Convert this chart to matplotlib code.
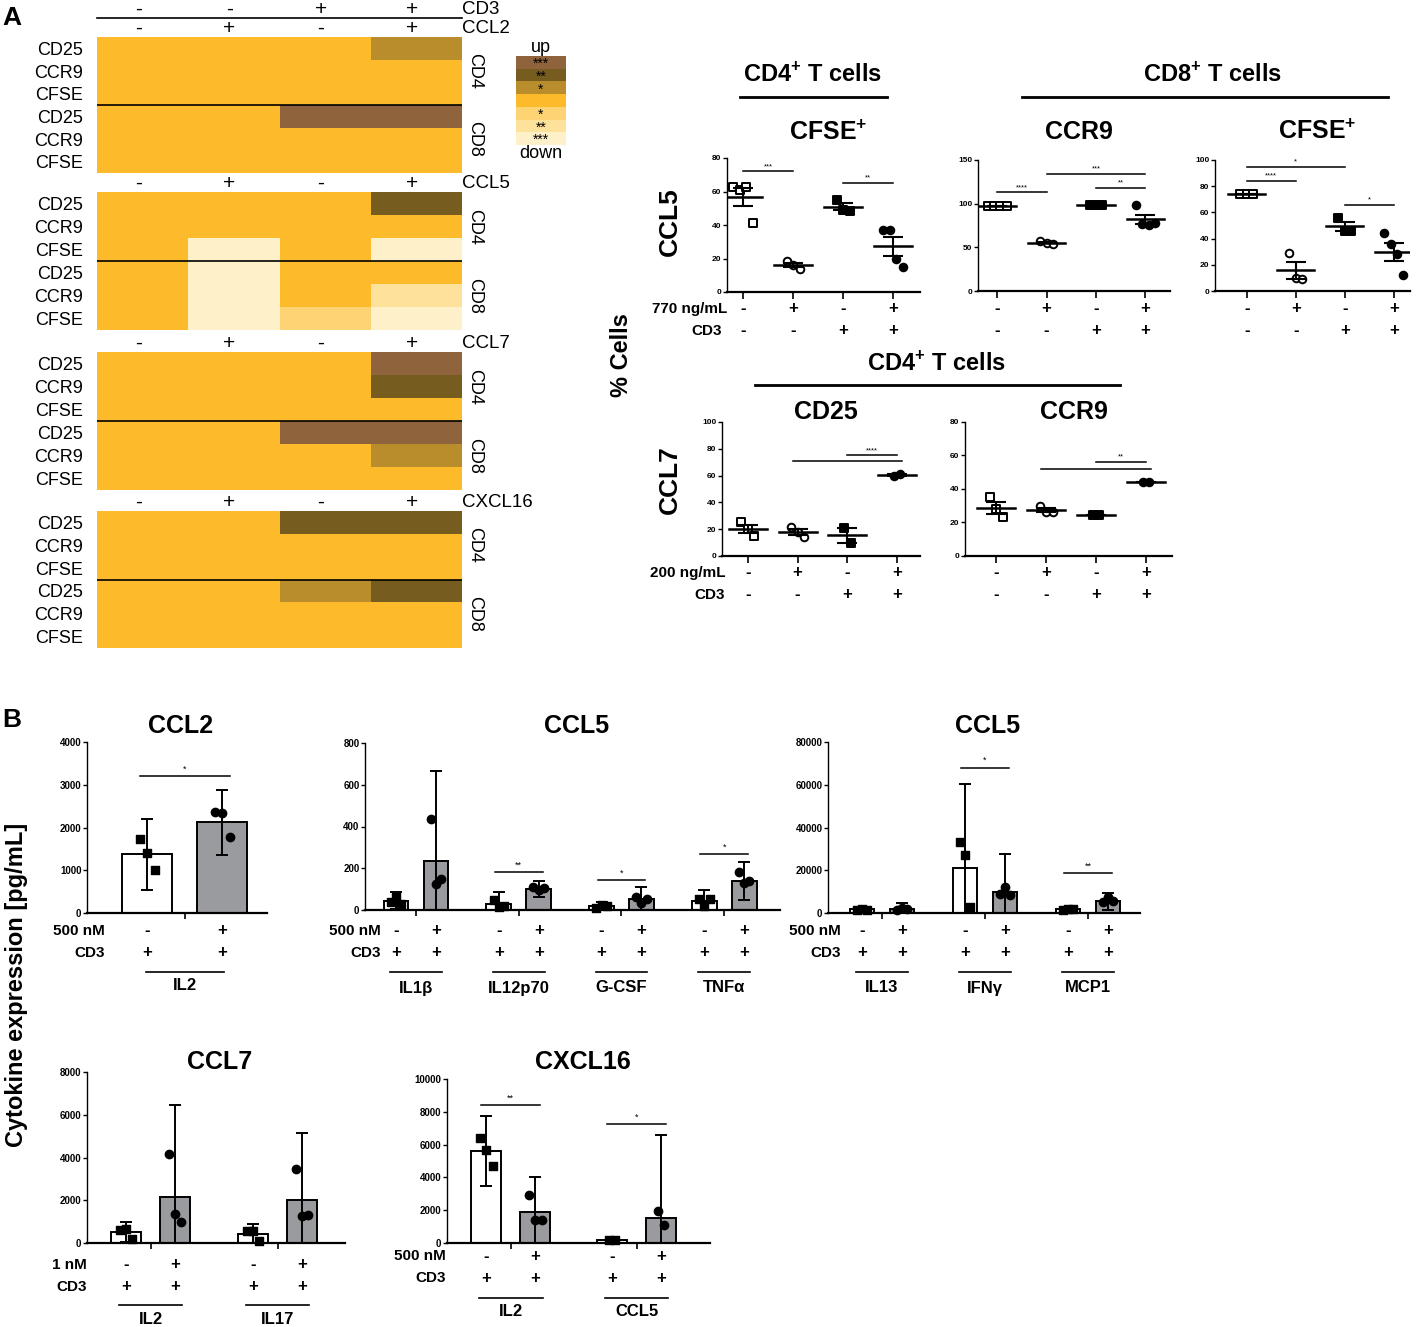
import numpy as np
import matplotlib
matplotlib.use("Agg")
import matplotlib.pyplot as plt
from matplotlib.colors import ListedColormap
from matplotlib.transforms import ScaledTranslation

plt.rcParams['font.family'] = ['Liberation Sans', 'DejaVu Sans']
plt.rcParams['mathtext.fontset'] = 'custom'
plt.rcParams['mathtext.rm'] = 'Liberation Sans:bold'
plt.rcParams['mathtext.bf'] = 'Liberation Sans:bold'
BOLD = dict(fontweight='bold', family=['Liberation Sans', 'DejaVu Sans'])

W, H = 1418, 1327

# ---------------- data: heatmap (A, left) ----------------
heat_rows = ["CD25", "CCR9", "CFSE", "CD25", "CCR9", "CFSE"]
heat_cd3 = ["-", "-", "+", "+"]
heat_treat = ["-", "+", "-", "+"]
heat_names = ["CCL2", "CCL5", "CCL7", "CXCL16"]
heat_ccl2 = [[0, 0, 0, 1], [0, 0, 0, 0], [0, 0, 0, 0],
             [0, 0, 3, 3], [0, 0, 0, 0], [0, 0, 0, 0]]
heat_ccl5 = [[0, 0, 0, 2], [0, 0, 0, 0], [0, -3, 0, -3],
             [0, -3, 0, 0], [0, -3, 0, -2], [0, -3, -1, -3]]
heat_ccl7 = [[0, 0, 0, 3], [0, 0, 0, 2], [0, 0, 0, 0],
             [0, 0, 3, 3], [0, 0, 0, 1], [0, 0, 0, 0]]
heat_cxcl16 = [[0, 0, 2, 2], [0, 0, 0, 0], [0, 0, 0, 0],
               [0, 0, 1, 2], [0, 0, 0, 0], [0, 0, 0, 0]]
legend_levels = [3, 2, 1, 0, -1, -2, -3]
legend_stars = ["***", "**", "*", "", "*", "**", "***"]
heat_colors = ['#FEF0C8', '#FEE29C', '#FDD373', '#FDBA2B',
               '#B98D2B', '#775C1F', '#8F643C']

# ---------------- data: scatter plots (A, right) ----------------
sc_treat = ["-", "+", "-", "+"]
sc_cd3 = ["-", "-", "+", "+"]
ccl5_cd4_cfse = [[62.5, 61, 62.5, 41], [18.5, 16, 14], [55, 49, 48.5], [37, 37, 20, 15]]
ccl5_cd8_ccr9 = [[97.5, 97.5, 97.5, 97.5], [57, 55, 54], [98, 98, 98], [98, 77, 76, 78]]
ccl5_cd8_cfse = [[74, 74, 74], [29, 10, 9], [56, 46, 46], [44, 36, 28, 12]]
ccl7_cd4_cd25 = [[25, 20, 15], [22, 18, 14], [21, 10], [60, 61]]
ccl7_cd4_ccr9 = [[35, 28, 23], [30, 26, 26], [24.5, 24.5], [44, 44]]
sig_ccl5_cd4_cfse = [(1, 2, 72, "***"), (3, 4, 65, "**")]
sig_ccl5_cd8_ccr9 = [(1, 2, 113, "****"), (2, 4, 134, "***"), (3, 4, 118, "**")]
sig_ccl5_cd8_cfse = [(1, 2, 84, "****"), (1, 3, 95, "*"), (3, 4, 66, "*")]
sig_ccl7_cd4_cd25 = [(2, 4, 71, ""), (3, 4, 75, "****")]
sig_ccl7_cd4_ccr9 = [(2, 4, 52, ""), (3, 4, 56, "**")]

# ---------------- data: bar charts (B) ----------------
b_ccl2_groups = ["IL2"]
b_ccl2_mean = [1370, 2120]
b_ccl2_err = [830, 760]
b_ccl2_pts = [[1720, 1400, 1000], [2370, 2350, 1780]]
b_ccl2_sig = [(0, 3200, "*")]

b_ccl5a_groups = ["IL1\u03b2", "IL12p70", "G-CSF", "TNF\u03b1"]
b_ccl5a_mean = [45, 237, 30, 100, 20, 55, 45, 140]
b_ccl5a_err = [40, 428, 58, 38, 20, 55, 50, 90]
b_ccl5a_pts = [[40, 60, 30], [435, 125, 150], [50, 15, 20], [110, 95, 105],
               [10, 25, 20], [60, 35, 55], [55, 20, 55], [180, 130, 140]]
b_ccl5a_sig = [(1, 182, "**"), (2, 144, "*"), (3, 268, "*")]

b_ccl5b_groups = ["IL13", "IFN\u03b3", "MCP1"]
b_ccl5b_mean = [1700, 1800, 21000, 9800, 1800, 5500]
b_ccl5b_err = [600, 2800, 39500, 18000, 800, 4000]
b_ccl5b_pts = [[1500, 2000, 1500], [1200, 2500, 1800], [33000, 27000, 3000],
               [9000, 12000, 8500], [1500, 2000, 2000], [5000, 7500, 5500]]
b_ccl5b_sig = [(1, 68000, "*"), (2, 18700, "**")]

b_ccl7_groups = ["IL2", "IL17"]
b_ccl7_mean = [520, 2170, 400, 2000]
b_ccl7_err = [480, 4280, 500, 3150]
b_ccl7_pts = [[600, 650, 200], [4150, 1350, 1000], [550, 550, 100], [3450, 1250, 1300]]

b_cxcl16_groups = ["IL2", "CCL5"]
b_cxcl16_mean = [5600, 1900, 200, 1500]
b_cxcl16_err = [2150, 2150, 0, 5100]
b_cxcl16_pts = [[6400, 5700, 4700], [2900, 1400, 1400], [200, 200], [1950, 1100]]
b_cxcl16_sig = [(0, 8400, "**"), (1, 7250, "*")]

b_treat = ["-", "+"]
b_cd3 = ["+", "+"]
GRAY = '#9A9B9F'

fig = plt.figure(figsize=(W / 100, H / 100), dpi=100)


def add_ax(x0, y0, x1, y1):
    return fig.add_axes([x0 / W, 1 - y1 / H, (x1 - x0) / W, (y1 - y0) / H])


def ftext(x, y, s, **kw):
    fig.text(x / W, 1 - y / H, s, **kw)


def below(ax, dy_px):
    return ax.get_xaxis_transform() + ScaledTranslation(0, -dy_px / 100, fig.dpi_scale_trans)


# ---------------- heatmap ----------------
cmap = ListedColormap(heat_colors)
blocks = [heat_ccl2, heat_ccl5, heat_ccl7, heat_cxcl16]
block_px = [(37, 173), (192, 330), (352, 490), (511, 648)]
for name, data, (y0, y1) in zip(heat_names, blocks, block_px):
    ax = add_ax(97, y0, 462, y1)
    ax.pcolormesh(np.arange(5), np.arange(7), np.array(data), cmap=cmap,
                  vmin=-3.5, vmax=3.5)
    ax.set_xlim(0, 4)
    ax.set_ylim(6, 0)
    ax.axhline(3, color='k', lw=1.2)
    for s in ax.spines.values():
        s.set_visible(False)
    ax.set_xticks([])
    ax.set_yticks(np.arange(6) + 0.5)
    ax.set_yticklabels(heat_rows, fontsize=13)
    ax.tick_params(axis='y', length=0, pad=10)
    ax.text(4.05, 1.5, "CD4", rotation=-90, ha='left', va='center', fontsize=13)
    ax.text(4.05, 4.5, "CD8", rotation=-90, ha='left', va='center', fontsize=13)
    for i, s in enumerate(heat_treat):
        ax.text(i + 0.45, -0.38, s, ha='center', va='center', fontsize=15, clip_on=False)
    ax.text(4.0, -0.38, name, ha='left', va='center', fontsize=13.5, clip_on=False)
    if name == "CCL2":
        for i, s in enumerate(heat_cd3):
            ax.text(i + 0.45, -1.22, s, ha='center', va='center', fontsize=15, clip_on=False)
        ax.text(4.0, -1.22, "CD3", ha='left', va='center', fontsize=13.5, clip_on=False)
        ax.plot([0, 4], [-0.84, -0.84], color='k', lw=1.2, clip_on=False)

lax = add_ax(516, 56, 566, 145)
lax.pcolormesh(np.array([[l] for l in legend_levels]), cmap=cmap, vmin=-3.5, vmax=3.5)
lax.set_ylim(7, 0)
lax.axis('off')
for i, st in enumerate(legend_stars):
    lax.text(0.5, i + 0.62, st, ha='center', va='center', fontsize=10)
lax.text(0.5, 1.0, "up", ha='center', va='bottom', fontsize=13, transform=lax.transAxes)
lax.text(0.5, 0.0, "down", ha='center', va='top', fontsize=13, transform=lax.transAxes)

ftext(2, 18, "A", fontsize=19, va='center', **BOLD)
ftext(2, 720, "B", fontsize=19, va='center', **BOLD)

# ---------------- scatter plots ----------------
MARKERS = [('s', 'white'), ('o', 'white'), ('s', 'k'), ('o', 'k')]


def style_left(ax, ticks, fs):
    for s in ['top', 'right']:
        ax.spines[s].set_visible(False)
    ax.spines['left'].set_linewidth(1.0)
    ax.spines['bottom'].set_linewidth(1.6)
    ax.set_yticks(ticks)
    ax.set_yticklabels([str(t) for t in ticks], fontsize=fs, **BOLD)
    ax.tick_params(axis='y', length=3, width=1, pad=1)
    ax.set_facecolor('none')


def scatter_panel(box, groups, ymax, step, sigs, xlim, title, title_y, rows_y):
    ax = add_ax(*box)
    for i, pts in enumerate(groups):
        x = i + 1
        pts = np.array(pts, dtype=float)
        off = (np.arange(len(pts)) - (len(pts) - 1) / 2) * 0.13
        m, fc = MARKERS[i]
        ax.scatter(x + off, pts, marker=m, s=30, facecolor=fc, edgecolor='k',
                   linewidths=1.4, zorder=3, clip_on=False)
        mean = pts.mean()
        sem = pts.std(ddof=1) / np.sqrt(len(pts))
        ax.plot([x - 0.38, x + 0.38], [mean, mean], color='k', lw=1.8, zorder=4)
        ax.errorbar(x, mean, yerr=sem, fmt='none', ecolor='k', elinewidth=1.5,
                    capsize=7, capthick=1.5, zorder=4)
    for a, b, y, st in sigs:
        ax.plot([a - 0.1, b + 0.1] if st == "" else [a, b], [y, y], color='k', lw=1.1)
        if st:
            ax.text((a + b) / 2, y + ymax * 0.01, st, ha='center', va='bottom', fontsize=5.5)
    ax.set_xlim(*xlim)
    ax.set_ylim(0, ymax)
    style_left(ax, list(range(0, ymax + 1, step)), 6)
    ax.set_xticks([1, 2, 3, 4])
    ax.set_xticklabels([])
    ax.tick_params(axis='x', length=5, width=1.2, direction='out')
    for i in range(4):
        ax.text(i + 1, 0, sc_treat[i], transform=below(ax, rows_y[0]), ha='center',
                va='center', fontsize=12, **BOLD)
        ax.text(i + 1, 0, sc_cd3[i], transform=below(ax, rows_y[1]), ha='center',
                va='center', fontsize=12, **BOLD)
    ftext((box[0] + box[2]) / 2 + 5, title_y, title, ha='center', va='center', fontsize=18, **BOLD)
    return ax


scatter_panel((727, 158, 920, 292), ccl5_cd4_cfse, 80, 20, sig_ccl5_cd4_cfse, (0.68, 4.54),
              "CFSE$^{+}$", 133, (17, 39))
scatter_panel((978, 160, 1170, 291), ccl5_cd8_ccr9, 150, 50, sig_ccl5_cd8_ccr9, (0.61, 4.5),
              "CCR9", 132, (18, 40))
scatter_panel((1215, 160, 1410, 291), ccl5_cd8_cfse, 100, 20, sig_ccl5_cd8_cfse, (0.35, 4.33),
              "CFSE$^{+}$", 132, (18, 40))
scatter_panel((722, 422, 920, 556), ccl7_cd4_cd25, 100, 20, sig_ccl7_cd4_cd25, (0.48, 4.46),
              "CD25", 412, (17, 39))
scatter_panel((965, 422, 1172, 556), ccl7_cd4_ccr9, 80, 20, sig_ccl7_cd4_ccr9, (0.38, 4.52),
              "CCR9", 412, (17, 39))

bkw = dict(va='center', **BOLD)
ftext(727, 309, "770 ng/mL", ha='right', fontsize=11, **bkw)
ftext(722, 331, "CD3", ha='right', fontsize=11, **bkw)
ftext(725, 573, "200 ng/mL", ha='right', fontsize=11, **bkw)
ftext(725, 595, "CD3", ha='right', fontsize=11, **bkw)

ftext(813, 75, "CD4$^{+}$ T cells", ha='center', fontsize=17, **bkw)
ftext(1213, 75, "CD8$^{+}$ T cells", ha='center', fontsize=17, **bkw)
ftext(937, 364, "CD4$^{+}$ T cells", ha='center', fontsize=17, **bkw)
for x0, x1, y in [(740, 887, 97), (1022, 1388, 97), (755, 1120, 385)]:
    fig.add_artist(plt.Line2D([x0 / W, x1 / W], [1 - y / H, 1 - y / H], color='k', lw=2,
                              transform=fig.transFigure))
ftext(670, 222, "CCL5", ha='center', rotation=90, fontsize=19, **bkw)
ftext(670, 480, "CCL7", ha='center', rotation=90, fontsize=19, **bkw)
ftext(621, 355, "% Cells", ha='center', rotation=90, fontsize=17, **bkw)
ftext(17, 985, "Cytokine expression [pg/mL]", ha='center', rotation=90, fontsize=17, **bkw)


# ---------------- bar charts ----------------
def bar_panel(box, groups, means, errs, pts, gap, ymax, step, sigs, xlim, title, title_y, bw,
              rows_y, line_y, lab_y, line_ext=0.15, jit=0.13):
    ax = add_ax(*box)
    n = len(groups)
    pos = np.array([g * gap + k for g in range(n) for k in (0, 1)])
    fills = ['white', GRAY] * n
    ax.bar(pos, means, width=bw, color=fills, edgecolor='k', lw=1.4, zorder=1)
    ax.errorbar(pos, means, yerr=errs, fmt='none', ecolor='k', elinewidth=1.4,
                capsize=4, capthick=1.4, zorder=2)
    for i, p in enumerate(pts):
        p = np.array(p, dtype=float)
        off = (np.arange(len(p)) - (len(p) - 1) / 2) * jit
        m = 's' if i % 2 == 0 else 'o'
        ax.scatter(pos[i] + off, p, marker=m, s=36, color='k', zorder=3, clip_on=False)
    for g, y, st in sigs:
        ax.plot([pos[2 * g] - 0.1, pos[2 * g + 1] + 0.1], [y, y], color='k', lw=1.1)
        ax.text(pos[2 * g] + 0.5, y + ymax * 0.015, st, ha='center', va='bottom', fontsize=6.5)
    ax.set_xlim(*xlim)
    ax.set_ylim(0, ymax)
    style_left(ax, list(range(0, ymax + 1, step)), 7)
    ax.set_xticks([g * gap + 0.5 for g in range(n)])
    ax.set_xticklabels([])
    ax.tick_params(axis='x', length=4, width=1.2, direction='out')
    for i, p in enumerate(pos):
        ax.text(p, 0, b_treat[i % 2], transform=below(ax, rows_y[0]), ha='center',
                va='center', fontsize=12, **BOLD)
        ax.text(p, 0, b_cd3[i % 2], transform=below(ax, rows_y[1]), ha='center',
                va='center', fontsize=12, **BOLD)
    for g, name in enumerate(groups):
        a, b = pos[2 * g] - line_ext, pos[2 * g + 1] + line_ext
        ax.plot([a, b], [0, 0], transform=below(ax, line_y), color='k', lw=1.2, clip_on=False)
        ax.text((a + b) / 2, 0, name, transform=below(ax, lab_y), ha='center', va='center',
                fontsize=12, **BOLD)
    ftext((box[0] + box[2]) / 2 + 4, title_y, title, ha='center', va='center', fontsize=18, **BOLD)
    return ax


bar_panel((87, 742, 267, 913), b_ccl2_groups, b_ccl2_mean, b_ccl2_err, b_ccl2_pts, 2.6,
          4000, 1000, b_ccl2_sig, (-0.8, 1.6), "CCL2", 726, 0.66, (18, 40), 59, 73, 0.02, 0.1)
bar_panel((365, 743, 780, 910), b_ccl5a_groups, b_ccl5a_mean, b_ccl5a_err, b_ccl5a_pts, 2.58,
          800, 200, b_ccl5a_sig, (-0.78, 9.64), "CCL5", 726, 0.62, (21, 43), 62, 78)
bar_panel((828, 742, 1140, 913), b_ccl5b_groups, b_ccl5b_mean, b_ccl5b_err, b_ccl5b_pts, 2.58,
          80000, 20000, b_ccl5b_sig, (-0.85, 6.96), "CCL5", 726, 0.6, (18, 40), 59, 75)
bar_panel((87, 1072, 345, 1243), b_ccl7_groups, b_ccl7_mean, b_ccl7_err, b_ccl7_pts, 2.6,
          8000, 2000, [], (-0.8, 4.48), "CCL7", 1062, 0.62, (22, 44), 62, 77)
bar_panel((447, 1079, 710, 1243), b_cxcl16_groups, b_cxcl16_mean, b_cxcl16_err, b_cxcl16_pts,
          2.57, 10000, 2000, b_cxcl16_sig, (-0.8, 4.57), "CXCL16", 1062, 0.6, (13, 35), 55, 69)

bkw = dict(va='center', ha='right', fontsize=11, **BOLD)
ftext(105, 931, "500 nM", **bkw)
ftext(105, 953, "CD3", **bkw)
ftext(381, 931, "500 nM", **bkw)
ftext(381, 953, "CD3", **bkw)
ftext(841, 931, "500 nM", **bkw)
ftext(841, 953, "CD3", **bkw)
ftext(87, 1265, "1 nM", **bkw)
ftext(87, 1287, "CD3", **bkw)
ftext(446, 1256, "500 nM", **bkw)
ftext(446, 1278, "CD3", **bkw)

fig.savefig("out.png", dpi=100)
